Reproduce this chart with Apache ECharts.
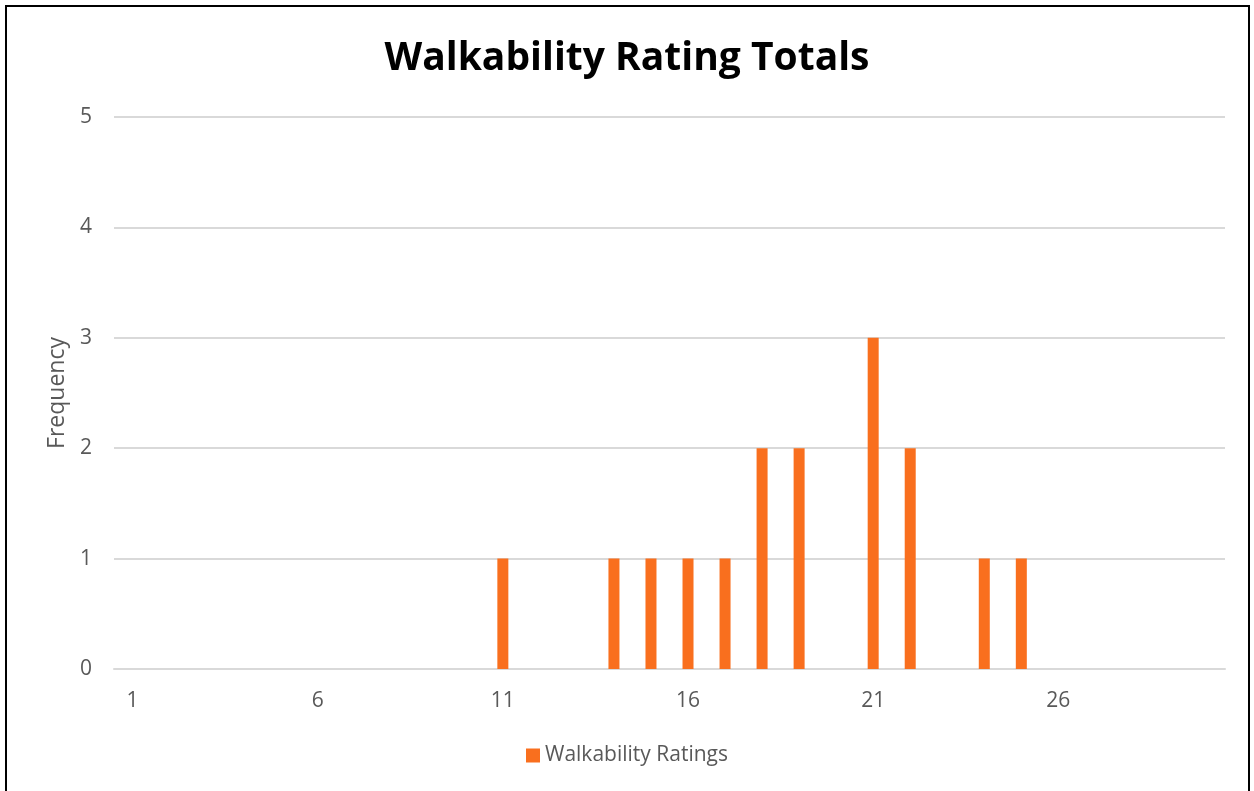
<!DOCTYPE html>
<html><head><meta charset="utf-8">
<script src="https://cdn.jsdelivr.net/npm/echarts@6/dist/echarts.min.js"></script>
<style>
html,body{margin:0;padding:0;background:#fff;}
#frame{position:absolute;left:5px;top:5px;width:1245px;height:800px;border:2px solid #000;border-bottom:none;box-sizing:border-box;}
#c{position:absolute;left:0;top:0;width:1254px;height:791px;}
</style></head><body>
<div id="c"></div>
<div id="frame"></div>
<script>
const categories = Array.from({length:30},(_, i)=>String(i+1));
const frequency = [0,0,0,0,0,0,0,0,0,0,1,0,0,1,1,1,1,2,2,0,3,2,0,1,1,0,0,0,0,0];
const yTicks = [0,1,2,3,4,5];
const chart = echarts.init(document.getElementById('c'));
const txt = '#595959', font = 'Open Sans';
chart.setOption({
  animation:false,
  title:{text:'Walkability Rating Totals',left:'center',top:34,
    textStyle:{fontFamily:font,fontWeight:'bold',fontSize:39,color:'#000'}},
  grid:{left:114,right:29,top:117,bottom:122},
  legend:{bottom:20,left:'center',itemWidth:14,itemHeight:14,icon:'rect',itemGap:8,
    textStyle:{fontFamily:font,fontSize:21,color:txt}},
  xAxis:{type:'category',data:categories,
    axisTick:{show:false},axisLine:{lineStyle:{color:'#d9d9d9',width:2}},
    axisLabel:{interval:4,fontFamily:font,fontSize:21,color:txt,margin:22}},
  yAxis:{type:'value',min:yTicks[0],max:yTicks[yTicks.length-1],interval:1,
    name:'Frequency',nameLocation:'middle',nameGap:44,
    nameTextStyle:{fontFamily:font,fontSize:23,color:txt},
    axisLabel:{fontFamily:font,fontSize:21,color:txt,margin:22},
    splitLine:{lineStyle:{color:'#d9d9d9',width:2}}},
  series:[{name:'Walkability Ratings',type:'bar',data:frequency,barWidth:11,
    itemStyle:{color:'#F96F1E'}}]
});
</script></body></html>
